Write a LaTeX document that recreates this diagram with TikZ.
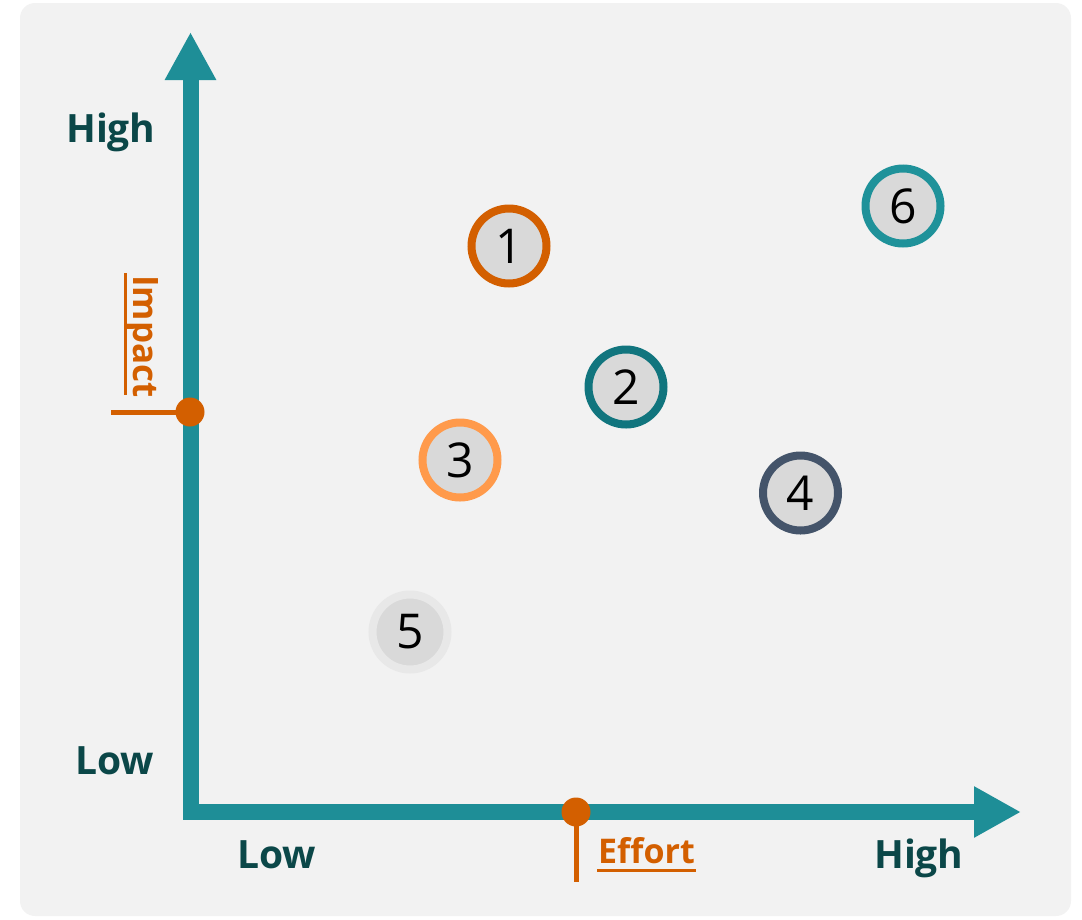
\documentclass[tikz,border=0pt]{standalone}
\usepackage{fontspec}
\setmainfont{Open Sans}
\usetikzlibrary{arrows.meta}
\definecolor{bg}{HTML}{F2F2F2}
\definecolor{axis}{HTML}{1E8E97}
\definecolor{lbl}{HTML}{0B4748}
\definecolor{orng}{HTML}{D35F00}
\definecolor{cfill}{HTML}{D9D9D9}
\definecolor{cA}{HTML}{D35F00}
\definecolor{cB}{HTML}{11757E}
\definecolor{cC}{HTML}{FF9A4B}
\definecolor{cD}{HTML}{44546A}
\definecolor{cE}{HTML}{E8E8E8}
\definecolor{cF}{HTML}{1F929A}
\begin{document}
\begin{tikzpicture}[x=1pt,y=-1pt,
  axisline/.style={draw=axis,line width=16pt},
  axislabel/.style={text=lbl,font=\fontsize{39}{43}\selectfont\bfseries,inner sep=0pt,anchor=base west},
  marklabel/.style={text=orng,font=\fontsize{34}{38}\selectfont\bfseries,inner sep=0pt},
  markline/.style={draw=orng,line width=5pt},
  uline/.style={draw=orng,line width=3pt},
  markdot/.style={circle,fill=orng,minimum size=29pt,inner sep=0pt},
  item/.style={circle,fill=cfill,line width=8pt,minimum size=75pt,inner sep=0pt,text=black,font=\fontsize{48}{52}\selectfont}]
\useasboundingbox (0,0) rectangle (1082,919);
\fill[bg,rounded corners=15pt] (20,3) rectangle (1071,916);
% axes
\coordinate (vbot) at (190.5,812);
\coordinate (vtop) at (190.5,32);
\coordinate (hl) at (183,812);
\coordinate (hr) at (1021,812);
\draw[axisline,-{Triangle[width=48pt,length=48pt]}] (vbot) -- (vtop);
\draw[axisline,-{Triangle[width=48pt,length=47pt]}] (hl) -- (hr);
% axis labels
\node[axislabel] (yhigh) at (66,142) {High};
\node[axislabel] (ylow) at (75,774) {Low};
\node[axislabel] (xlow) at (237,868) {Low};
\node[axislabel] (xhigh) at (874,868) {High};
% impact marker
\coordinate (impL) at (111,412);
\node[markdot] (impdot) at (190,412) {};
\draw[markline] (impL) -- (impdot.center);
\node[marklabel,rotate=-90,anchor=base west,font=\fontsize{35}{38}\selectfont\bfseries] (imp) at (133,275) {Impact};
\coordinate (impu1) at (125,273);
\coordinate (impu2) at (125,395);
\draw[uline] (impu1) -- (impu2);
% effort marker
\coordinate (effB) at (576,882);
\node[markdot] (effdot) at (576,812) {};
\draw[markline] (effdot.center) -- (effB);
\node[marklabel,anchor=base west] (eff) at (598,863) {Effort};
\coordinate (effu1) at (597,870);
\coordinate (effu2) at (696,870);
\draw[uline] (effu1) -- (effu2);
% items
\node[item,draw=cA] (n1) at (509,246) {1};
\node[item,draw=cB] (n2) at (626,387) {2};
\node[item,draw=cC] (n3) at (460,460) {3};
\node[item,draw=cD] (n4) at (800.5,493) {4};
\node[item,draw=cE] (n5) at (410,632) {5};
\node[item,draw=cF] (n6) at (903,206) {6};
\end{tikzpicture}
\end{document}
